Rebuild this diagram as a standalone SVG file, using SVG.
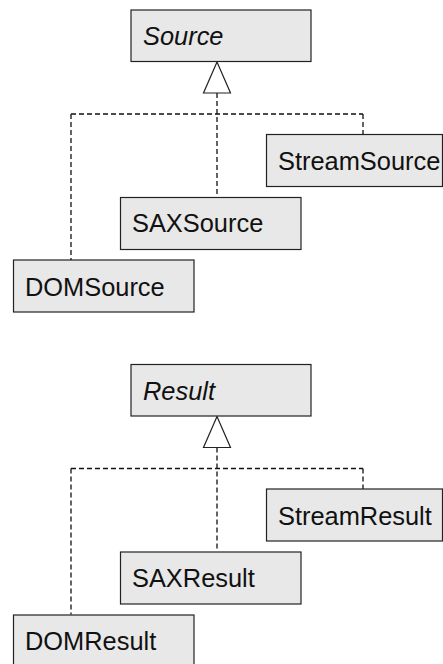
<svg xmlns="http://www.w3.org/2000/svg" width="443" height="664" viewBox="0 0 443 664">
<style>
.box{fill:#e8e8e8;stroke:#222;stroke-width:1.2}
.t{font-family:"Liberation Sans",Arial,sans-serif;font-size:25.4px;fill:#111}
.i{font-style:italic}
.d{fill:none;stroke:#111;stroke-width:1.3;stroke-dasharray:5,3}
.tri{fill:#fff;stroke:#222;stroke-width:1.2}
</style>
<rect width="443" height="664" fill="#fff"/>
<g id="connectors">
<path class="d" d="M217,93V197M71,114H363M71,114V260M363,114V134.5"/>
<polygon class="tri" points="217,62 203.5,93 230.5,93"/>
<path class="d" d="M217,447.5V551.5M71,468.5H363M71,468.5V614.5M363,468.5V489"/>
<polygon class="tri" points="217,416.5 203.5,447.5 230.5,447.5"/>
</g>
<g id="Source"><rect class="box" x="131" y="10" width="180" height="51.5"/><text class="t i" x="143" y="45">Source</text></g>
<g id="StreamSource"><rect class="box" x="266.5" y="134.5" width="176" height="52"/><text class="t" x="278" y="170">StreamSource</text></g>
<g id="SAXSource"><rect class="box" x="120.5" y="197.5" width="180.5" height="52"/><text class="t" x="132" y="232">SAXSource</text></g>
<g id="DOMSource"><rect class="box" x="13.5" y="260" width="180.5" height="52"/><text class="t" x="25" y="295.5">DOMSource</text></g>
<g id="Result"><rect class="box" x="131" y="364.5" width="180" height="51.5"/><text class="t i" x="143" y="399.5">Result</text></g>
<g id="StreamResult"><rect class="box" x="266.5" y="489" width="176" height="52"/><text class="t" x="278" y="524.5">StreamResult</text></g>
<g id="SAXResult"><rect class="box" x="120.5" y="552" width="180.5" height="52"/><text class="t" x="132" y="587">SAXResult</text></g>
<g id="DOMResult"><rect class="box" x="13.5" y="615" width="180.5" height="52"/><text class="t" x="25" y="650">DOMResult</text></g>
</svg>
